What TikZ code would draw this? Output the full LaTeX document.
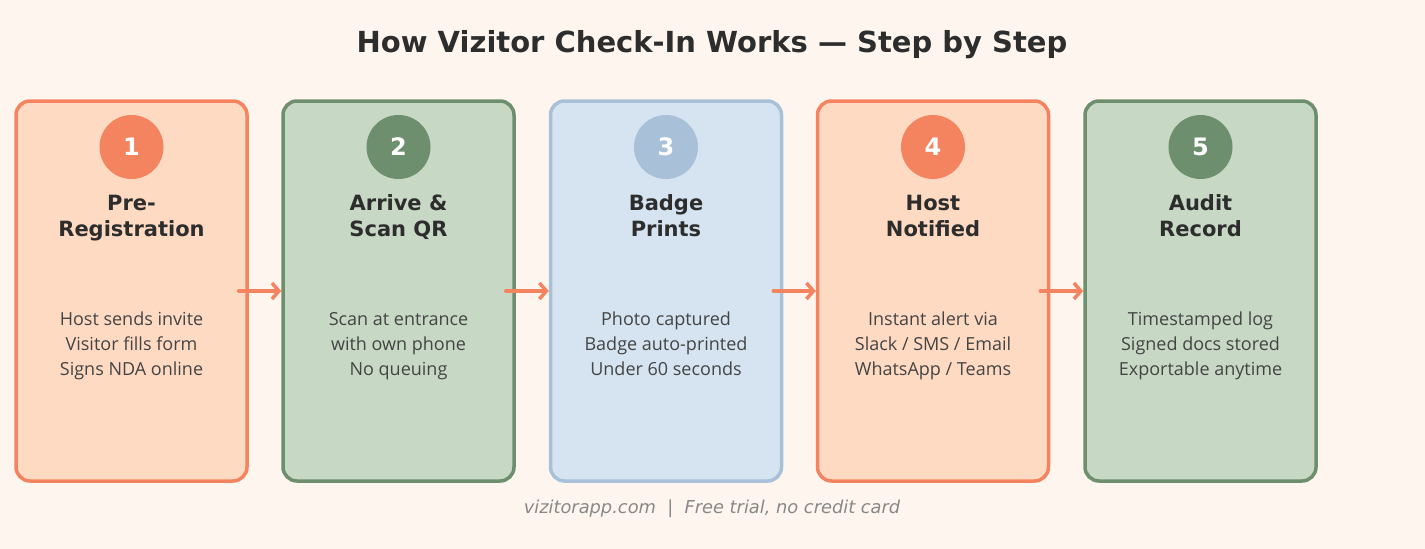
\documentclass[tikz,border=0pt]{standalone}
\usepackage{fontspec}
\setmainfont{DejaVu Sans}
\newfontfamily\bodyfont{Open Sans}
\usetikzlibrary{arrows.meta,positioning}
\definecolor{bgcream}{HTML}{FEF6EE}
\definecolor{peachfill}{HTML}{FFDAC3}
\definecolor{peachline}{HTML}{F4845F}
\definecolor{sagefill}{HTML}{C7D9C5}
\definecolor{sageline}{HTML}{6E8F6E}
\definecolor{skyfill}{HTML}{D5E4F0}
\definecolor{skyline}{HTML}{A8C0D8}
\definecolor{inkdark}{HTML}{2D2D2D}
\definecolor{inkbody}{HTML}{444444}
\definecolor{inkfoot}{HTML}{888888}

\begin{document}
\begin{tikzpicture}[x=1pt, y=-1pt,
    stepcard/.style={draw=#1line, fill=#1fill, rounded corners=14pt, line width=3.5pt, minimum width=231pt, minimum height=380pt, inner sep=0pt},
    stepnum/.style={circle, fill=#1, minimum size=64pt, inner sep=0pt, text=white, font=\fontsize{24}{24}\selectfont\bfseries},
    steptitle/.style={anchor=base, align=center, text=inkdark, font=\fontsize{21}{26}\selectfont\bfseries},
    stepbody/.style={anchor=base, align=center, text=inkbody, font=\bodyfont\fontsize{18}{25}\selectfont},
    flow/.style={-{Straight Barb[length=7pt,width=16pt,line width=3.5pt]}, line width=3.5pt, peachline, line cap=round}]

    % Background
    \fill[bgcream] (0,0) rectangle (1425,549);
    \useasboundingbox (0,0) rectangle (1425,549);

    % Title
    \node[font=\fontsize{29}{29}\selectfont\bfseries, text=inkdark] (title) at (712,45) {How Vizitor Check-In Works — Step by Step};

    % Step 1 - Pre-Registration
    \node[stepcard=peach] (card1) at (131.5,291) {};
    \node[stepnum=peachline] (num1) at (131.5,147) {1};
    \node[steptitle] (head1) at (131.5,236) {Pre-\\Registration};
    \node[stepbody] (text1) at (131.5,375) {Host sends invite\\Visitor fills form\\Signs NDA online};

    % Step 2 - Arrive & Scan QR
    \node[stepcard=sage] (card2) at (398.5,291) {};
    \node[stepnum=sageline] (num2) at (398.5,147) {2};
    \node[steptitle] (head2) at (398.5,236) {Arrive \&\\Scan QR};
    \node[stepbody] (text2) at (398.5,375) {Scan at entrance\\with own phone\\No queuing};

    % Step 3 - Badge Prints
    \node[stepcard=sky] (card3) at (666,291) {};
    \node[stepnum=skyline] (num3) at (666,147) {3};
    \node[steptitle] (head3) at (666,236) {Badge\\Prints};
    \node[stepbody] (text3) at (666,375) {Photo captured\\Badge auto-printed\\Under 60 seconds};

    % Step 4 - Host Notified
    \node[stepcard=peach] (card4) at (933,291) {};
    \node[stepnum=peachline] (num4) at (933,147) {4};
    \node[steptitle] (head4) at (933,236) {Host\\Notified};
    \node[stepbody] (text4) at (933,375) {Instant alert via\\Slack / SMS / Email\\WhatsApp / Teams};

    % Step 5 - Audit Record
    \node[stepcard=sage] (card5) at (1200.5,291) {};
    \node[stepnum=sageline] (num5) at (1200.5,147) {5};
    \node[steptitle] (head5) at (1200.5,236) {Audit\\Record};
    \node[stepbody] (text5) at (1200.5,375) {Timestamped log\\Signed docs stored\\Exportable anytime};

    % Arrows
    \draw[flow] ([xshift=-10pt]card1.east) -- (card2.west);
    \draw[flow] ([xshift=-10pt]card2.east) -- (card3.west);
    \draw[flow] ([xshift=-10pt]card3.east) -- (card4.west);
    \draw[flow] ([xshift=-10pt]card4.east) -- (card5.west);

    % Footer
    \node[font=\fontsize{17.8}{17.8}\selectfont\itshape, text=inkfoot] (footer) at (712,509) {vizitorapp.com \ | \ Free trial, no credit card};
\end{tikzpicture}
\end{document}
